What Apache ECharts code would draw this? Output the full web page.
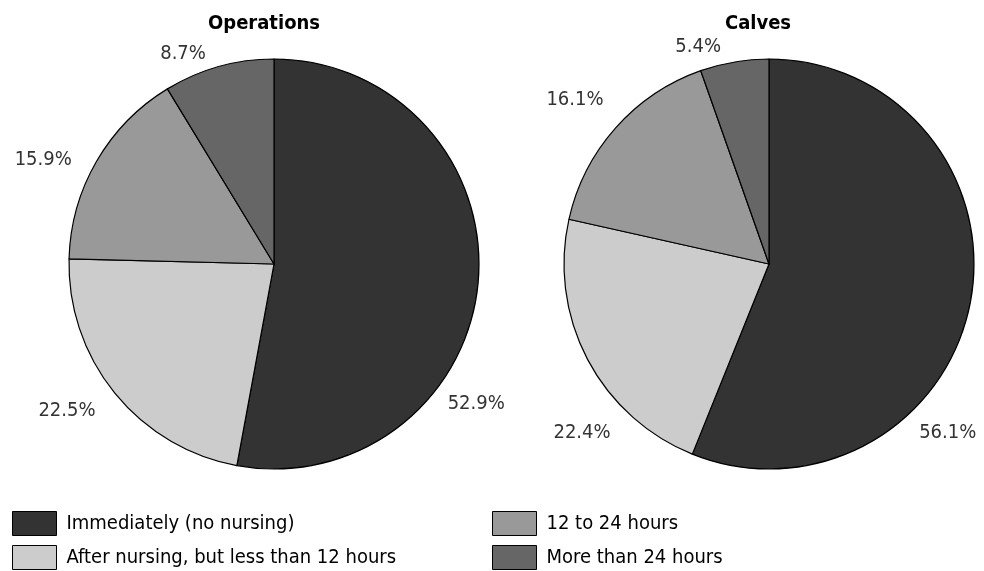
<!DOCTYPE html>
<html>
<head>
<meta charset="utf-8">
<script src="https://cdn.jsdelivr.net/npm/echarts@6/dist/echarts.min.js"></script>
<style>
html,body{margin:0;padding:0;background:#fff;}
#chart{width:984px;height:571px;}
</style>
</head>
<body>
<div id="chart"></div>
<script>
// ---- data ----
const categories = ['Immediately (no nursing)', 'After nursing, but less than 12 hours', '12 to 24 hours', 'More than 24 hours'];
const operationsValues = [52.9, 22.5, 15.9, 8.7];
const calvesValues = [56.1, 22.4, 16.1, 5.4];
const pieTitles = ['Operations', 'Calves'];

// ---- style / layout ----
const colors = ['#333333', '#cccccc', '#999999', '#666666'];
const FONT = "'Liberation Sans Narrow', 'Arial Narrow', 'DejaVu Sans Condensed', sans-serif";
const centers = [[274, 264], [769, 264]];
const RADIUS = 205;
// label placement: angle (deg, clockwise from top) and distance from centre
const labelAngles = [[124.7, 234.6, 294.2, 336.6], [133.4, 227.9, 310.2, 341.9]];
const labelDists = [[246, 254, 253, 229], [246, 252, 254, 228]];
// legend slots: [left, top] for each category
const legendSlots = [[12, 511], [12, 545], [492, 511], [492, 545]];

function makeData(vals) {
  return categories.map((c, i) => ({ name: c, value: vals[i], itemStyle: { color: colors[i] } }));
}

function makeSeries(idx, vals) {
  return {
    type: 'pie',
    name: pieTitles[idx],
    center: centers[idx],
    radius: RADIUS,
    startAngle: 90,
    clockwise: true,
    animation: false,
    silent: true,
    avoidLabelOverlap: false,
    itemStyle: { borderColor: '#000', borderWidth: 1.2 },
    label: {
      show: true,
      position: 'outside',
      formatter: p => p.value.toFixed(1) + '%',
      fontFamily: FONT,
      fontSize: 20,
      color: '#333',
      overflow: 'none',
      width: 200
    },
    labelLine: { show: false },
    labelLayout: function (params) {
      const a = labelAngles[idx][params.dataIndex] * Math.PI / 180;
      const d = labelDists[idx][params.dataIndex];
      return {
        x: centers[idx][0] + d * Math.sin(a),
        y: centers[idx][1] - d * Math.cos(a),
        align: 'center',
        verticalAlign: 'middle'
      };
    },
    emphasis: { disabled: true },
    data: makeData(vals)
  };
}

const legends = categories.map((c, i) => ({
  data: [c], orient: 'horizontal', left: legendSlots[i][0], top: legendSlots[i][1], padding: 0,
  itemWidth: 44, itemHeight: 24, icon: 'rect', selectedMode: false,
  itemStyle: { borderColor: '#000', borderWidth: 1 },
  textStyle: { fontFamily: FONT, fontSize: 20, color: '#000', padding: [0, 0, 0, 5] }
}));

const chart = echarts.init(document.getElementById('chart'), null, { renderer: 'canvas' });
chart.setOption({
  animation: false,
  backgroundColor: '#fff',
  title: [
    { text: pieTitles[0], left: 264, top: 14, textAlign: 'center', padding: 0,
      textStyle: { fontFamily: FONT, fontSize: 20, fontWeight: 'bold', color: '#000' } },
    { text: pieTitles[1], left: 758, top: 14, textAlign: 'center', padding: 0,
      textStyle: { fontFamily: FONT, fontSize: 20, fontWeight: 'bold', color: '#000' } }
  ],
  legend: legends,
  series: [makeSeries(0, operationsValues), makeSeries(1, calvesValues)]
});
</script>
</body>
</html>
